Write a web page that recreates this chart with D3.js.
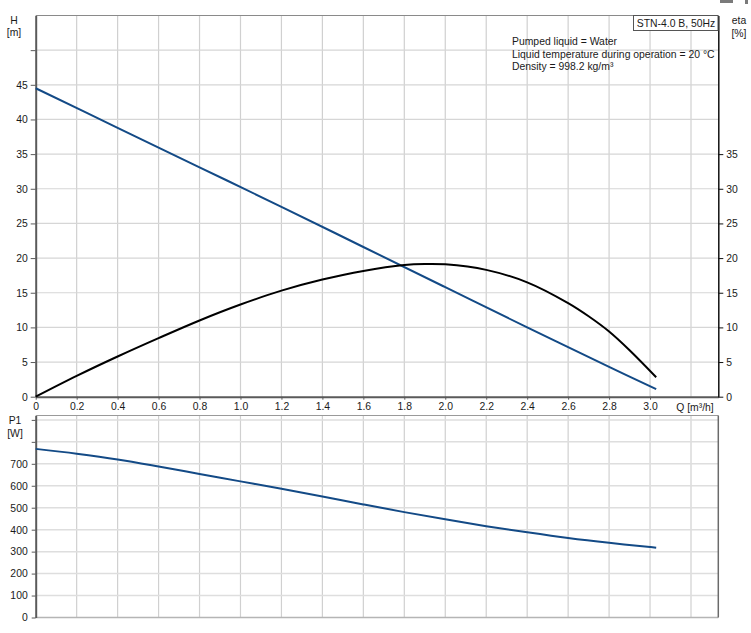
<!DOCTYPE html>
<html>
<head>
<meta charset="utf-8">
<script src="https://cdn.jsdelivr.net/npm/d3@7"></script>
<style>
  html, body { margin: 0; padding: 0; background: #fff; }
  svg { display: block; font-family: "Liberation Sans", Arial, sans-serif; }
  text { fill: #1a1a1a; font-size: 10.4px; }
</style>
</head>
<body>
<svg id="chart" width="751" height="633"></svg>
<script>
// ---------- data ----------
const xTicks = [0, 0.2, 0.4, 0.6, 0.8, 1.0, 1.2, 1.4, 1.6, 1.8, 2.0, 2.2, 2.4, 2.6, 2.8, 3.0];
const xGrid = [0.2, 0.4, 0.6, 0.8, 1.0, 1.2, 1.4, 1.6, 1.8, 2.0, 2.2, 2.4, 2.6, 2.8, 3.0, 3.2];
const hTicks = [0, 5, 10, 15, 20, 25, 30, 35, 40, 45];
const hGrid = [5, 10, 15, 20, 25, 30, 35, 40, 45, 50];
const etaTicks = [0, 5, 10, 15, 20, 25, 30, 35];
const p1Ticks = [0, 100, 200, 300, 400, 500, 600, 700];
const p1Grid = [100, 200, 300, 400, 500, 600, 700, 800, 900];

const qH   = [0, 0.4, 0.8, 1.2, 1.6, 2.0, 2.4, 2.8, 3.03];
const hVals = [44.5, 38.8, 33.1, 27.4, 21.6, 15.8, 10.0, 4.3, 1.1];

const qEta    = [0, 0.2, 0.4, 0.6, 0.8, 1.0, 1.2, 1.4, 1.6, 1.8, 1.9, 2.0, 2.2, 2.4, 2.6, 2.7, 2.8, 2.9, 3.03];
const etaVals = [0, 3.0, 5.8, 8.45, 11.0, 13.3, 15.3, 16.9, 18.15, 19.0, 19.15, 19.1, 18.3, 16.5, 13.5, 11.6, 9.4, 6.7, 2.8];

const qP1    = [0, 0.2, 0.4, 0.6, 0.8, 1.0, 1.2, 1.4, 1.6, 1.8, 2.0, 2.2, 2.4, 2.6, 2.8, 3.0, 3.03];
const p1Vals = [768, 746, 720, 688, 654, 620, 586, 551, 515, 480, 447, 416, 388, 362, 340, 321, 318];

const infoLines = ["Pumped liquid = Water", "Liquid temperature during operation = 20 °C", "Density = 998.2 kg/m³"];
const legendLabel = "STN-4.0 B, 50Hz";

// ---------- layout ----------
const svg = d3.select("#chart");
const X0 = 35.7, X1 = 718.3;
const T0 = 15.5, T1 = 396.7;   // top panel
const B0 = 415.5, B1 = 617.5;  // bottom panel
const blue = "#134a86";
const tickFont = "9.6px";

const x = d3.scaleLinear().domain([0, 3.3333]).range([X0, X1]);
const yH = d3.scaleLinear().domain([0, 55]).range([T1, T0]);
const yEta = d3.scaleLinear().domain([0, 55]).range([T1, T0]);
const yP = d3.scaleLinear().domain([0, 920]).range([B1, B0]);

// ---------- grids ----------
function vgrid(y0, y1) {
  svg.append("g").selectAll("line").data(xGrid).join("line")
    .attr("x1", d => x(d)).attr("x2", d => x(d))
    .attr("y1", y0).attr("y2", y1)
    .attr("stroke", "#d0d0d0").attr("stroke-width", 1.2);
}
vgrid(T0, T1);
vgrid(B0, B1);
svg.append("g").selectAll("line").data(hGrid).join("line")
  .attr("x1", X0).attr("x2", X1)
  .attr("y1", d => yH(d)).attr("y2", d => yH(d))
  .attr("stroke", "#d6d6d6").attr("stroke-width", 1.2);
svg.append("g").selectAll("line").data(p1Grid).join("line")
  .attr("x1", X0).attr("x2", X1)
  .attr("y1", d => yP(d)).attr("y2", d => yP(d))
  .attr("stroke", "#dedede").attr("stroke-width", 1.5);

// ---------- frames ----------
svg.append("line").attr("x1", X0).attr("x2", X1).attr("y1", T0).attr("y2", T0).attr("stroke", "#8a8a8a");
svg.append("line").attr("x1", X0).attr("x2", X1).attr("y1", B0).attr("y2", B0).attr("stroke", "#9a9a9a");
svg.append("line").attr("x1", X0).attr("x2", X1).attr("y1", B1).attr("y2", B1).attr("stroke", "#b5b5b5").attr("stroke-width", 1.5);
svg.append("line").attr("x1", X1).attr("x2", X1).attr("y1", B0).attr("y2", B1).attr("stroke", "#6a6a6a").attr("stroke-width", 1.5);

// ---------- axes ----------
const fmtX = d => d === 0 ? "0" : d3.format(".1f")(d);
const axX = svg.append("g").attr("transform", `translate(0,${T1})`)
  .call(d3.axisBottom(x).tickValues(xTicks).tickFormat(fmtX).tickSize(3).tickPadding(3).tickSizeOuter(0));
axX.select(".domain").attr("stroke", "#5a5a5a").attr("stroke-width", 2);
axX.selectAll(".tick line").attr("stroke", "#5a5a5a");
axX.selectAll("text").attr("font-size", tickFont).attr("fill", "#1a1a1a");
svg.append("text").attr("x", 695).attr("y", 411).attr("text-anchor", "middle").attr("font-size", tickFont).text("Q [m³/h]");

const axH = svg.append("g").attr("transform", `translate(${X0},0)`)
  .call(d3.axisLeft(yH).tickValues(hTicks.concat([50])).tickFormat(d => d <= 45 ? d : "").tickSize(5).tickPadding(3).tickSizeOuter(0));
axH.select(".domain").attr("stroke", "#5a5a5a").attr("stroke-width", 2);
axH.selectAll(".tick line").attr("stroke", "#5a5a5a");
axH.selectAll("text").attr("font-size", tickFont).attr("fill", "#1a1a1a");

const axE = svg.append("g").attr("transform", `translate(${X1},0)`)
  .call(d3.axisRight(yEta).tickValues(etaTicks).tickSize(5).tickPadding(3).tickSizeOuter(0));
axE.select(".domain").attr("stroke", "#111").attr("stroke-width", 1.5);
axE.selectAll(".tick line").attr("stroke", "#111");
axE.selectAll("text").attr("font-size", tickFont).attr("fill", "#1a1a1a");

const axP = svg.append("g").attr("transform", `translate(${X0},0)`)
  .call(d3.axisLeft(yP).tickValues(p1Ticks.concat([800, 900])).tickFormat(d => d <= 700 ? d : "").tickSize(4).tickPadding(4).tickSizeOuter(0));
axP.select(".domain").attr("stroke", "#5a5a5a").attr("stroke-width", 2);
axP.selectAll(".tick line").attr("stroke", "#5a5a5a");
axP.selectAll("text").attr("font-size", tickFont).attr("fill", "#1a1a1a");

// ---------- axis titles ----------
svg.append("text").attr("x", 14).attr("y", 24).attr("text-anchor", "middle").text("H");
svg.append("text").attr("x", 14).attr("y", 36).attr("text-anchor", "middle").text("[m]");
svg.append("text").attr("x", 739).attr("y", 24).attr("text-anchor", "middle").text("eta");
svg.append("text").attr("x", 739).attr("y", 37).attr("text-anchor", "middle").text("[%]");
svg.append("text").attr("x", 15).attr("y", 424).attr("text-anchor", "middle").text("P1");
svg.append("text").attr("x", 15).attr("y", 437).attr("text-anchor", "middle").text("[W]");

// ---------- curves ----------
const smooth = d3.curveCatmullRom.alpha(0.5);
const lineH = d3.line().x(d => x(d[0])).y(d => yH(d[1])).curve(smooth);
svg.append("path").datum(d3.zip(qH, hVals)).attr("d", lineH)
  .attr("fill", "none").attr("stroke", blue).attr("stroke-width", 2);

const lineE = d3.line().x(d => x(d[0])).y(d => yEta(d[1])).curve(smooth);
svg.append("path").datum(d3.zip(qEta, etaVals)).attr("d", lineE)
  .attr("fill", "none").attr("stroke", "#000").attr("stroke-width", 2);

const lineP = d3.line().x(d => x(d[0])).y(d => yP(d[1])).curve(smooth);
svg.append("path").datum(d3.zip(qP1, p1Vals)).attr("d", lineP)
  .attr("fill", "none").attr("stroke", blue).attr("stroke-width", 2);

// ---------- info text & legend ----------
svg.append("g").selectAll("text").data(infoLines).join("text")
  .attr("x", 512).attr("y", (d, i) => 45 + i * 12.5).text(d => d);

svg.append("rect").attr("x", 633.5).attr("y", 15.5).attr("width", 84.5).attr("height", 15)
  .attr("fill", "#fff").attr("stroke", "#555");
svg.append("text").attr("x", 676).attr("y", 27).attr("text-anchor", "middle").text(legendLabel);

// clipped toolbar icon at the top right corner
svg.append("rect").attr("x", 720).attr("y", 0).attr("width", 13).attr("height", 3).attr("fill", "#7a7a7a");
svg.append("rect").attr("x", 745).attr("y", 0).attr("width", 3).attr("height", 4).attr("fill", "#7a7a7a");
</script>
</body>
</html>
